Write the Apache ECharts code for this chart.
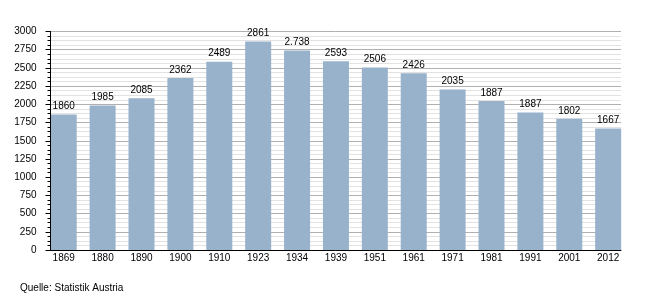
<!DOCTYPE html>
<html>
<head>
<meta charset="utf-8">
<script src="https://cdn.jsdelivr.net/npm/echarts@6/dist/echarts.min.js"></script>
<style>
html,body{margin:0;padding:0;background:#fff;}
#c{width:650px;height:300px;}
</style>
</head>
<body>
<div id="c"></div>
<script>
var years = ["1869","1880","1890","1900","1910","1923","1934","1939","1951","1961","1971","1981","1991","2001","2012"];
var barValues = [1860,1985,2085,2362,2585,2861,2738,2593,2506,2426,2205,2045,1887,1802,1667];
var labelTexts = ["1860","1985","2085","2362","2489","2861","2.738","2593","2506","2426","2035","1887","1887","1802","1667"];
var yTicks = [0,250,500,750,1000,1250,1500,1750,2000,2250,2500,2750,3000];

var font = "'Liberation Sans', Arial, sans-serif";
var chart = echarts.init(document.getElementById('c'), null, {renderer:'canvas'});
var xIdx = years.map(function(_, i){ return i; });
var yMin = yTicks[0], yMax = yTicks[yTicks.length-1];
chart.setOption({
  animation:false,
  backgroundColor:'#ffffff',
  grid:{left:50.5, right:29, top:31.5, height:218.5, containLabel:false},
  graphic:[{type:'text', left:20, top:283, style:{text:'Quelle: Statistik Austria', font:'10px '+font, fill:'#000'}}],
  xAxis:{
    type:'value', min:-0.34, max:14.33, z:5,
    axisLine:{show:true, onZero:false, lineStyle:{color:'#000', width:1}},
    axisTick:{show:false},
    splitLine:{show:false},
    axisLabel:{customValues:xIdx, formatter:function(v){return years[Math.round(v)];}, fontSize:10, fontFamily:font, color:'#000', margin:3}
  },
  yAxis:[{
    type:'value', min:yMin, max:yMax, interval:250, z:0, position:'left',
    axisLine:{show:false, onZero:false},
    axisTick:{show:false},
    minorTick:{show:false, splitNumber:4},
    splitLine:{show:true, lineStyle:{color:'#b0b0b0', width:1}},
    minorSplitLine:{show:true, lineStyle:{color:'#e2e2e2', width:1}},
    axisLabel:{show:false}
  },{
    type:'value', min:yMin, max:yMax, interval:250, z:5, position:'left',
    axisLine:{show:true, onZero:false, lineStyle:{color:'#000', width:1}},
    axisTick:{show:true, inside:false, length:5, lineStyle:{color:'#000'}},
    minorTick:{show:true, splitNumber:4, length:3, lineStyle:{color:'#000'}},
    splitLine:{show:false},
    minorSplitLine:{show:false},
    axisLabel:{fontSize:10, fontFamily:font, color:'#000', margin:14, formatter:function(v){return String(v);}}
  }],
  series:[{
    type:'bar', z:2, yAxisIndex:0,
    data:barValues.map(function(v,i){return [i, v];}),
    barWidth:26,
    itemStyle:{color:'#98b2cb'},
    label:{show:true, position:'top', distance:3, fontSize:10, fontFamily:font, color:'#000',
      formatter:function(p){return labelTexts[p.dataIndex];}}
  }]
});
</script>
</body>
</html>
